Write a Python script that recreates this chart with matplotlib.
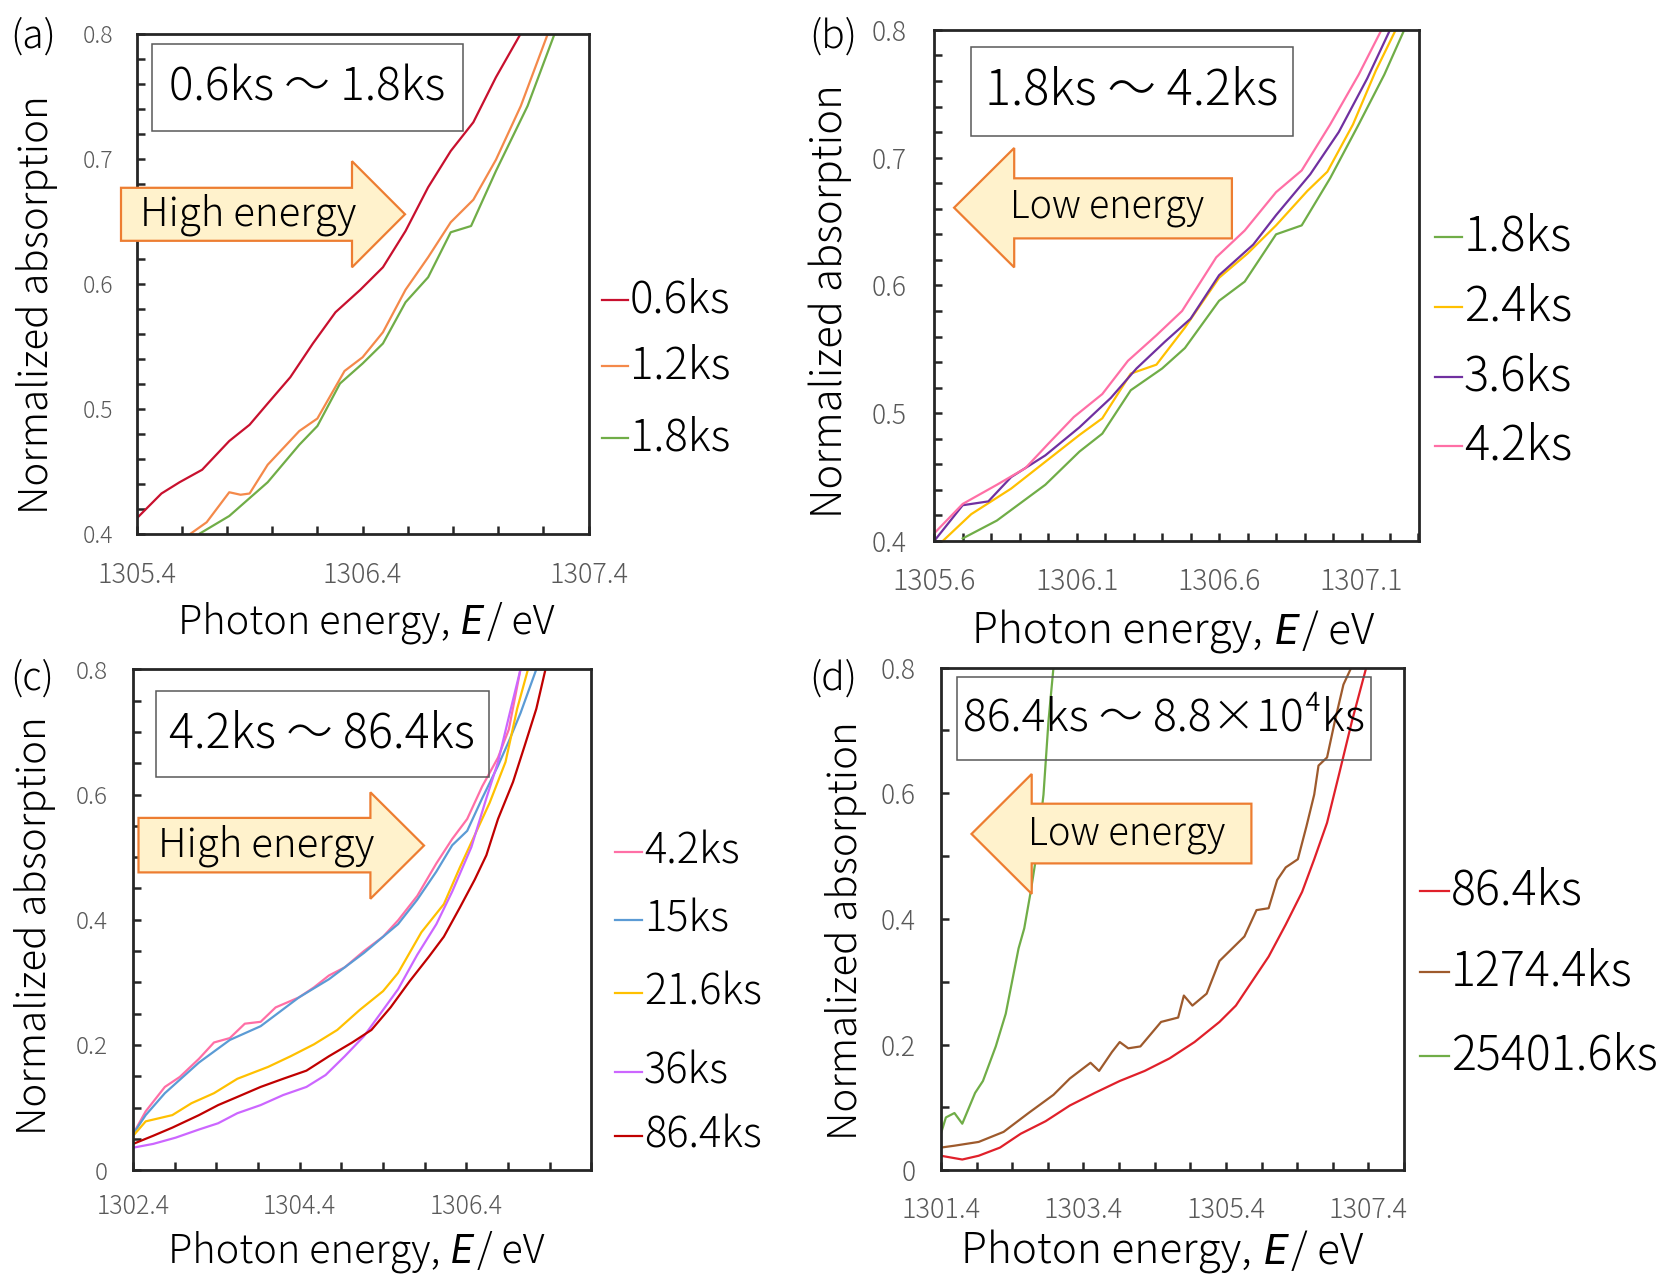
import numpy as np
import matplotlib
matplotlib.use('Agg')
import matplotlib.pyplot as plt
from matplotlib.patches import Polygon, Rectangle
from matplotlib.lines import Line2D
from matplotlib.ticker import FuncFormatter

plt.rcParams['font.family'] = ['Noto Sans CJK JP', 'DejaVu Sans']

# ---- (a) 0.6ks - 1.8ks ----
a_06_x = [1305.40, 1305.51, 1305.59, 1305.69, 1305.81, 1305.90, 1305.98, 1306.08, 1306.18,
          1306.28, 1306.39, 1306.49, 1306.59, 1306.69, 1306.79, 1306.89, 1306.99, 1307.10]
a_06_y = [0.412, 0.432, 0.441, 0.451, 0.474, 0.487, 0.504, 0.525, 0.552,
          0.577, 0.595, 0.613, 0.642, 0.677, 0.706, 0.729, 0.765, 0.800]
a_12_x = [1305.64, 1305.71, 1305.81, 1305.86, 1305.90, 1305.98, 1306.12, 1306.20, 1306.32,
          1306.40, 1306.49, 1306.59, 1306.69, 1306.79, 1306.89, 1306.99, 1307.10, 1307.22]
a_12_y = [0.400, 0.409, 0.433, 0.431, 0.432, 0.455, 0.482, 0.492, 0.530,
          0.541, 0.561, 0.595, 0.621, 0.649, 0.667, 0.699, 0.742, 0.800]
a_18_x = [1305.68, 1305.81, 1305.98, 1306.12, 1306.20, 1306.30, 1306.40, 1306.49, 1306.59,
          1306.69, 1306.79, 1306.88, 1306.99, 1307.13, 1307.25]
a_18_y = [0.400, 0.414, 0.441, 0.471, 0.486, 0.520, 0.536, 0.552, 0.585,
          0.605, 0.641, 0.646, 0.690, 0.742, 0.800]

# ---- (b) 1.8ks - 4.2ks ----
b_18_x = [1305.70, 1305.82, 1305.99, 1306.11, 1306.19, 1306.29, 1306.40, 1306.48, 1306.60,
          1306.69, 1306.80, 1306.89, 1306.99, 1307.09, 1307.18, 1307.25]
b_18_y = [0.402, 0.416, 0.444, 0.470, 0.484, 0.518, 0.535, 0.551, 0.588,
          0.603, 0.640, 0.647, 0.684, 0.726, 0.765, 0.800]
b_24_x = [1305.63, 1305.73, 1305.87, 1305.99, 1306.11, 1306.19, 1306.29, 1306.38, 1306.48,
          1306.60, 1306.70, 1306.80, 1306.91, 1306.98, 1307.07, 1307.15, 1307.22]
b_24_y = [0.400, 0.421, 0.441, 0.462, 0.483, 0.496, 0.531, 0.538, 0.567,
          0.606, 0.625, 0.647, 0.674, 0.689, 0.726, 0.768, 0.800]
b_36_x = [1305.60, 1305.70, 1305.79, 1305.87, 1305.99, 1306.11, 1306.22, 1306.31, 1306.41,
          1306.50, 1306.60, 1306.72, 1306.80, 1306.92, 1307.02, 1307.12, 1307.20]
b_36_y = [0.400, 0.428, 0.431, 0.450, 0.467, 0.489, 0.512, 0.535, 0.556,
          0.574, 0.608, 0.632, 0.655, 0.687, 0.720, 0.762, 0.800]
b_42_x = [1305.60, 1305.70, 1305.82, 1305.92, 1306.00, 1306.09, 1306.19, 1306.28, 1306.38,
          1306.47, 1306.59, 1306.69, 1306.80, 1306.89, 1306.99, 1307.09, 1307.17]
b_42_y = [0.406, 0.429, 0.444, 0.457, 0.476, 0.497, 0.515, 0.541, 0.561,
          0.580, 0.622, 0.643, 0.673, 0.690, 0.726, 0.765, 0.800]

# ---- (c) 4.2ks - 86.4ks ----
c_42_x = [1302.40, 1302.55, 1302.78, 1302.96, 1303.19, 1303.37, 1303.56, 1303.74, 1303.93,
          1304.11, 1304.39, 1304.57, 1304.75, 1304.94, 1305.17, 1305.40, 1305.58, 1305.81,
          1306.04, 1306.23, 1306.41, 1306.59, 1306.78, 1306.91, 1307.05]
c_42_y = [0.058, 0.094, 0.133, 0.149, 0.178, 0.204, 0.211, 0.234, 0.237,
          0.260, 0.276, 0.292, 0.311, 0.324, 0.350, 0.373, 0.399, 0.438,
          0.490, 0.529, 0.561, 0.613, 0.659, 0.704, 0.800]
c_15_x = [1302.40, 1302.55, 1302.78, 1303.19, 1303.56, 1303.93, 1304.39, 1304.75, 1305.17,
          1305.58, 1305.81, 1306.04, 1306.23, 1306.41, 1306.59, 1306.78, 1306.91, 1307.05, 1307.24]
c_15_y = [0.058, 0.088, 0.123, 0.172, 0.208, 0.230, 0.276, 0.305, 0.347,
          0.393, 0.432, 0.477, 0.519, 0.542, 0.594, 0.646, 0.685, 0.730, 0.800]
c_216_x = [1302.40, 1302.55, 1302.87, 1303.10, 1303.37, 1303.65, 1304.02, 1304.29, 1304.57,
           1304.85, 1305.12, 1305.40, 1305.58, 1305.86, 1306.13, 1306.32, 1306.50, 1306.68,
           1306.87, 1307.01, 1307.14]
c_216_y = [0.055, 0.078, 0.088, 0.107, 0.123, 0.146, 0.165, 0.182, 0.201,
           0.224, 0.256, 0.286, 0.315, 0.380, 0.425, 0.483, 0.535, 0.587,
           0.652, 0.737, 0.800]
c_36_x = [1302.40, 1302.64, 1302.91, 1303.19, 1303.42, 1303.65, 1303.93, 1304.20, 1304.48,
          1304.71, 1304.94, 1305.17, 1305.40, 1305.58, 1305.81, 1306.04, 1306.23, 1306.46,
          1306.64, 1306.78, 1306.91, 1307.05]
c_36_y = [0.036, 0.042, 0.052, 0.065, 0.075, 0.091, 0.104, 0.120, 0.133,
          0.152, 0.182, 0.214, 0.256, 0.289, 0.344, 0.393, 0.445, 0.516,
          0.594, 0.652, 0.724, 0.800]
c_864_x = [1302.40, 1302.64, 1302.87, 1303.19, 1303.42, 1303.65, 1303.93, 1304.20, 1304.48,
           1304.75, 1305.03, 1305.26, 1305.49, 1305.72, 1305.95, 1306.13, 1306.32, 1306.50,
           1306.64, 1306.78, 1306.96, 1307.10, 1307.24, 1307.35]
c_864_y = [0.042, 0.055, 0.068, 0.088, 0.104, 0.117, 0.133, 0.146, 0.159,
           0.182, 0.204, 0.224, 0.260, 0.302, 0.341, 0.373, 0.419, 0.464,
           0.503, 0.561, 0.620, 0.678, 0.737, 0.800]

# ---- (d) 86.4ks - 8.8x10^4ks ----
d_864_x = [1301.40, 1301.70, 1301.93, 1302.23, 1302.52, 1302.87, 1303.21, 1303.56, 1303.91,
           1304.26, 1304.61, 1304.96, 1305.31, 1305.54, 1305.77, 1306.00, 1306.24, 1306.47,
           1306.64, 1306.82, 1306.99, 1307.17, 1307.37]
d_864_y = [0.023, 0.017, 0.023, 0.036, 0.058, 0.078, 0.103, 0.123, 0.142,
           0.158, 0.178, 0.204, 0.236, 0.262, 0.301, 0.340, 0.391, 0.443,
           0.495, 0.553, 0.631, 0.715, 0.800]
d_1274_x = [1301.40, 1301.59, 1301.93, 1302.28, 1302.63, 1302.98, 1303.21, 1303.50, 1303.62,
            1303.80, 1303.91, 1304.03, 1304.20, 1304.49, 1304.73, 1304.81, 1304.93, 1305.13,
            1305.31, 1305.66, 1305.83, 1306.00, 1306.12, 1306.24, 1306.41, 1306.53, 1306.64,
            1306.70, 1306.82, 1306.93, 1307.05, 1307.16]
d_1274_y = [0.036, 0.039, 0.045, 0.061, 0.091, 0.120, 0.146, 0.171, 0.158,
            0.188, 0.204, 0.194, 0.197, 0.236, 0.243, 0.278, 0.262, 0.281,
            0.333, 0.372, 0.414, 0.417, 0.462, 0.482, 0.495, 0.547, 0.598,
            0.644, 0.657, 0.715, 0.773, 0.800]
d_25401_x = [1301.40, 1301.47, 1301.59, 1301.70, 1301.88, 1301.99, 1302.17, 1302.31, 1302.40,
             1302.49, 1302.57, 1302.66, 1302.75, 1302.84, 1302.91, 1302.98]
d_25401_y = [0.058, 0.084, 0.091, 0.074, 0.123, 0.142, 0.197, 0.249, 0.301,
             0.353, 0.385, 0.443, 0.508, 0.598, 0.715, 0.800]

W, H = 1664, 1277
INK = '#262626'
TICK_GREY = '#595959'
ARROW_FILL = '#FFF2CC'
ARROW_EDGE = '#ED7D31'
LW = 1.6
WEIGHT = 'light'

fig = plt.figure(figsize=(W / 100, H / 100), dpi=100)
renderer = fig.canvas.get_renderer()


def fxy(x, y):
    # pixel position (origin top-left) -> figure fraction
    return x / W, 1 - y / H


def make_axes(left, top, right, bottom):
    return fig.add_axes([left / W, 1 - bottom / H, (right - left) / W, (bottom - top) / H])


def style_axes(ax, xlim, ylim, xticks, xminor, yticks, yminor, xfs, yfs, xpad, ypad):
    ax.set_xlim(*xlim)
    ax.set_ylim(*ylim)
    ax.set_xticks(xticks)
    ax.set_xticks(xminor, minor=True)
    ax.set_yticks(yticks)
    ax.set_yticks(yminor, minor=True)
    ax.xaxis.set_major_formatter(FuncFormatter(lambda v, p: f'{v:.1f}'))
    ax.yaxis.set_major_formatter(FuncFormatter(lambda v, p: f'{round(v, 2):g}'))
    for s in ax.spines.values():
        s.set_linewidth(2.0)
        s.set_color(INK)
    ax.tick_params(which='both', direction='in', length=6, width=1.8, color=INK,
                   top=False, right=False)
    ax.tick_params(axis='x', which='major', labelsize=xfs, labelcolor=TICK_GREY, pad=xpad)
    ax.tick_params(axis='y', which='major', labelsize=yfs, labelcolor=TICK_GREY, pad=ypad)
    for t in ax.get_xticklabels() + ax.get_yticklabels():
        t.set_fontweight(WEIGHT)


def title_box(left, top, right, bottom, text, fs):
    x0, y0 = fxy(left, bottom)
    x1, y1 = fxy(right, top)
    fig.add_artist(Rectangle((x0, y0), x1 - x0, y1 - y0, transform=fig.transFigure,
                             fill=False, edgecolor='#595959', lw=1.1, zorder=4))
    fig.text((x0 + x1) / 2, (y0 + y1) / 2, text, fontsize=fs, ha='center', va='center',
             color='black', fontweight=WEIGHT, zorder=5)


def block_arrow(pts, text, tx, ty, fs):
    poly = Polygon([fxy(*p) for p in pts], closed=True, transform=fig.transFigure,
                   facecolor=ARROW_FILL, edgecolor=ARROW_EDGE, lw=1.6, zorder=4)
    fig.add_artist(poly)
    fig.text(*fxy(tx, ty), text, fontsize=fs, ha='left', va='center', color='black',
             fontweight=WEIGHT, zorder=5)


def right_arrow(x0, x1, xt, yb0, yb1, yh0, yh1, text, tx, fs):
    ym = (yh0 + yh1) / 2
    pts = [(x0, yb0), (x1, yb0), (x1, yh0), (xt, ym), (x1, yh1), (x1, yb1), (x0, yb1)]
    block_arrow(pts, text, tx, ym, fs)


def left_arrow(xt, x1, x2, yb0, yb1, yh0, yh1, text, tx, fs):
    ym = (yh0 + yh1) / 2
    pts = [(xt, ym), (x1, yh0), (x1, yb0), (x2, yb0), (x2, yb1), (x1, yb1), (x1, yh1)]
    block_arrow(pts, text, tx, ym, fs)


def key(entries, x0, x1, ys, fs):
    for (label, color), y in zip(entries, ys):
        fig.add_artist(Line2D([x0 / W, x1 / W], [1 - y / H, 1 - y / H], color=color, lw=1.6,
                              transform=fig.transFigure))
        fig.text((x1 + 2) / W, 1 - y / H, label, fontsize=fs, ha='left', va='center',
                 fontweight=WEIGHT)


def energy_label(cx, cy, fs):
    # "Photon energy, E / eV" with an italic E, laid out piece by piece
    fs_px = fs * 100 / 72
    base = cy + 0.25 * fs_px
    parts = [
        fig.text(0, 0, 'Photon energy,', fontsize=fs, fontweight=WEIGHT, va='baseline'),
        fig.text(0, 0, 'E', fontsize=fs, family='Roboto', style='italic', fontweight='normal',
                 va='baseline'),
        fig.text(0, 0, '/ eV', fontsize=fs, fontweight=WEIGHT, va='baseline'),
    ]
    gaps = [0.28 * fs_px, 0.1 * fs_px]
    widths = [p.get_window_extent(renderer).width for p in parts]
    x = cx - (sum(widths) + sum(gaps)) / 2
    for i, p in enumerate(parts):
        p.set_position(fxy(x, base))
        x += widths[i] + (gaps[i] if i < len(gaps) else 0)


def labels(tag, tag_xy, ylab_xy, xlab_xy, yfs, xfs):
    fig.text(*fxy(*tag_xy), tag, fontsize=28, ha='left', va='center', fontweight=WEIGHT)
    fig.text(*fxy(*ylab_xy), 'Normalized absorption', fontsize=yfs, rotation=90,
             ha='center', va='center', fontweight=WEIGHT)
    energy_label(xlab_xy[0], xlab_xy[1], xfs)


# (a)
ax = make_axes(136.6, 33.5, 588.6, 533.5)
c_a = [('0.6ks', '#C8102E'), ('1.2ks', '#F4894A'), ('1.8ks', '#70AD47')]
for (lab, col), xs, ys in zip(c_a, [a_06_x, a_12_x, a_18_x], [a_06_y, a_12_y, a_18_y]):
    ax.plot(xs, ys, color=col, lw=LW)
style_axes(ax, (1305.4, 1307.4), (0.4, 0.8), [1305.4, 1306.4, 1307.4],
           np.arange(1305.4, 1307.41, 0.2), np.arange(0.4, 0.81, 0.1),
           np.arange(0.4, 0.81, 0.02), 19.5, 16.5, 19.5, 17)
title_box(152, 44.1, 463, 131.4, '0.6ks ～ 1.8ks', 33)
right_arrow(121, 352, 405, 187.8, 240.8, 161.2, 267.3, 'High energy', 140, 29)
key(c_a, 602, 628, [300, 366, 438], 31.5)
labels('(a)', (10, 37), (37, 305), (366, 624), 29, 28.5)

# (b)
ax = make_axes(934.2, 29.9, 1418.5, 541)
c_b = [('1.8ks', '#70AD47'), ('2.4ks', '#FFC000'), ('3.6ks', '#7030A0'), ('4.2ks', '#FF6FA6')]
for (lab, col), xs, ys in zip(c_b, [b_18_x, b_24_x, b_36_x, b_42_x],
                              [b_18_y, b_24_y, b_36_y, b_42_y]):
    ax.plot(xs, ys, color=col, lw=LW)
style_axes(ax, (1305.6, 1307.3), (0.4, 0.8), [1305.6, 1306.1, 1306.6, 1307.1],
           np.arange(1305.6, 1307.31, 0.1), np.arange(0.4, 0.81, 0.1),
           np.arange(0.4, 0.81, 0.02), 20.5, 19, 18, 20)
title_box(970.7, 46.8, 1293.3, 135.6, '1.8ks ～ 4.2ks', 35)
left_arrow(954.1, 1014.2, 1231.9, 178.3, 238.4, 148, 267.4, 'Low energy', 1010, 27)
key(c_b, 1435, 1462, [237, 307, 377, 446], 34)
labels('(b)', (809, 37), (830, 301), (1173, 633), 30, 30.5)

# (c)
ax = make_axes(133.2, 669.3, 591.3, 1170.2)
c_c = [('4.2ks', '#FF6FA6'), ('15ks', '#5B9BD5'), ('21.6ks', '#FFC000'),
       ('36ks', '#CC66FF'), ('86.4ks', '#C00000')]
for (lab, col), xs, ys in zip(c_c, [c_42_x, c_15_x, c_216_x, c_36_x, c_864_x],
                              [c_42_y, c_15_y, c_216_y, c_36_y, c_864_y]):
    ax.plot(xs, ys, color=col, lw=LW)
style_axes(ax, (1302.4, 1307.9), (0, 0.8), [1302.4, 1304.4, 1306.4],
           np.arange(1302.4, 1307.91, 0.5), np.arange(0, 0.81, 0.2),
           np.arange(0, 0.81, 0.05), 18, 17.5, 17, 18)
title_box(156.1, 690.8, 488.7, 777.3, '4.2ks ～ 86.4ks', 33.5)
right_arrow(138.5, 370.4, 424, 817.9, 872.4, 792.3, 898.8, 'High energy', 158, 29)
key(c_c, 615, 642, [852, 920, 993, 1072, 1136], 30)
labels('(c)', (10, 679), (35, 926), (356, 1253), 29, 28.5)

# (d)
ax = make_axes(940.9, 667.6, 1404, 1170.2)
c_d = [('86.4ks', '#E0202A'), ('1274.4ks', '#9E5A2C'), ('25401.6ks', '#70AD47')]
for (lab, col), xs, ys in zip(c_d, [d_864_x, d_1274_x, d_25401_x],
                              [d_864_y, d_1274_y, d_25401_y]):
    ax.plot(xs, ys, color=col, lw=LW)
style_axes(ax, (1301.4, 1307.9), (0, 0.8), [1301.4, 1303.4, 1305.4, 1307.4],
           np.arange(1301.4, 1307.91, 0.5), np.arange(0, 0.81, 0.2),
           np.arange(0, 0.81, 0.1), 19.5, 19, 18.5, 18)
title_box(957.4, 676.6, 1371.2, 760.3, '86.4ks ～ 8.8×10⁴ks', 32)
left_arrow(971.5, 1031.7, 1251.4, 803.7, 863.4, 774, 893.9, 'Low energy', 1028, 27.5)
key(c_d, 1420, 1449, [891, 972, 1056], 33.5)
labels('(d)', (809, 679), (846, 931), (1162, 1253), 29, 30.5)

fig.savefig('out.png', dpi=100)
